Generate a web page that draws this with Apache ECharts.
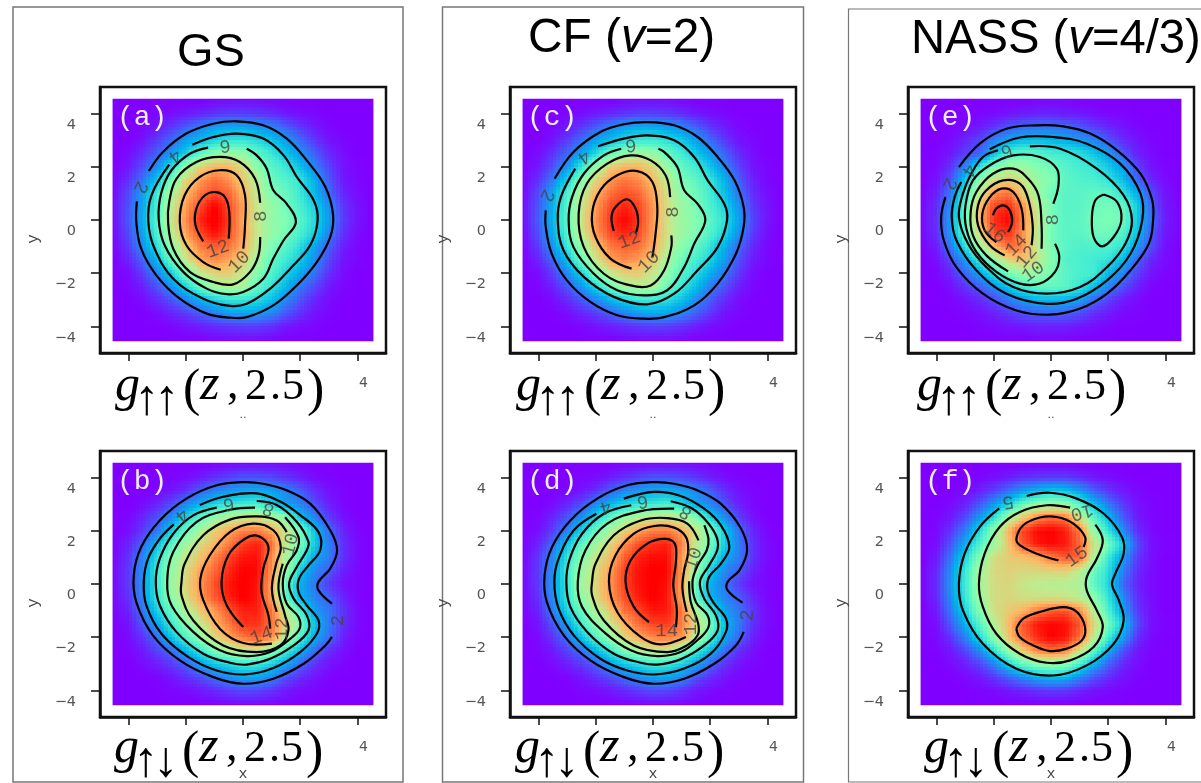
<!DOCTYPE html>
<html><head><meta charset="utf-8"><style>html,body{margin:0;padding:0;background:#fff}#c{width:1201px;height:783px}</style>
<script src="https://cdn.jsdelivr.net/npm/echarts@6/dist/echarts.min.js"></script></head><body><div id="c"></div>
<script>
const gridX=[-4.5,-4,-3.5,-3,-2.5,-2,-1.5,-1,-.5,0,.5,1,1.5,2,2.5,3,3.5,4,4.5];
const gridY=[4.5,4,3.5,3,2.5,2,1.5,1,.5,0,-.5,-1,-1.5,-2,-2.5,-3,-3.5,-4,-4.5];
const tickValues=[-4,-2,0,2,4];
const imageExtent=[-4.56,4.56];
const gridA=[
[0,0,0,0,0,0,0,.1,.2,.2,.2,.1,0,0,0,0,0,0,0],
[0,0,0,.1,.2,.4,.6,.8,1,1,.9,.7,.4,.2,.1,0,0,0,0],
[0,0,.1,.4,.9,1.5,2.2,2.8,3,3,2.7,2.3,1.6,.9,.4,.1,0,0,0],
[0,0,.3,1,1.8,2.8,3.5,4.1,4.6,4.7,4.3,3.7,2.8,1.8,.9,.3,.1,0,0],
[0,.2,.8,1.6,2.7,4,5.8,6.8,7.3,7,5.8,4.8,3.8,2.7,1.6,.7,.2,0,0],
[0,.4,1.3,2.5,4.4,7.2,9.1,9.9,9.9,8.8,6.9,5.6,4.8,3.6,2.3,1.1,.3,.1,0],
[.1,.8,2,3.8,6.4,8.9,10.4,11.3,10.6,9.3,8,6.1,5.5,4.7,3.2,1.5,.4,.1,0],
[.2,1.3,2.9,5,7.7,9.7,11.2,12,11.5,9.8,8.2,6.6,6.1,4.8,3.4,1.9,.6,.2,0],
[.3,1.4,3.1,5.3,8.2,10.4,12,13.3,12,10.3,8.4,7.2,6.3,5.2,4.1,2.5,.9,.3,0],
[.3,1.5,3.2,5.6,8.4,10.7,12.6,13.5,12.2,10.1,8.3,7.1,6.6,5.6,4.3,2.7,1,.3,0],
[.2,1.3,3,5.3,8,10.3,12,13,12,10.2,8.4,7.2,6.4,5.2,4.1,2.3,.8,.2,0],
[.1,1,2.5,4.6,7,9.2,11,11.6,11.2,10,8.1,6.5,5.6,4.4,2.9,1.6,.5,.1,0],
[0,.6,1.7,3.4,6,8.3,10.1,10.8,10.2,9.2,7.6,5.9,4.9,3.9,2.5,1.2,.3,.1,0],
[0,.2,1,2.3,4,6.4,8.2,9,9.2,8.3,6.7,5.4,4.2,3,1.9,.8,.2,0,0],
[0,.1,.5,1.4,2.5,4.1,6,7.5,8,7.7,5.8,4.6,3.4,2,1.2,.4,.1,0,0],
[0,0,.2,.7,1.4,2.3,3.3,4.1,4.7,4.7,4.4,3.6,2.4,1.4,.6,.2,0,0,0],
[0,0,0,.2,.6,1,1.6,2.2,2.8,3,2.9,2.4,1.5,.8,.3,.1,0,0,0],
[0,0,0,0,.1,.3,.5,.7,.9,1,1,.8,.4,.2,.1,0,0,0,0],
[0,0,0,0,0,0,0,.1,.2,.2,.2,.1,0,0,0,0,0,0,0]];
const gridB=[
[0,0,0,0,0,0,0,.1,.2,.3,.3,.3,.2,.1,0,0,0,0,0],
[0,0,0,0,.1,.2,.5,.9,1.3,1.6,1.6,1.4,1,.6,.2,.1,0,0,0],
[0,0,0,.1,.4,.9,1.9,2.6,3.2,3.6,3.8,3.4,2.8,1.9,.9,.3,.1,0,0],
[0,0,.2,.7,1.5,2.7,3.9,4.9,5.6,5.8,6.1,4.9,3.4,2.7,1.5,.6,.1,0,0],
[0,.1,.7,1.6,2.9,4.8,6.7,8.3,9.3,9.8,10.1,9.2,8,4.4,2.7,1.2,.3,0,0],
[0,.3,1.1,2.4,4.7,7,9.1,10.8,12,12.9,13,12,10,7.7,4.3,2.2,.7,.1,0],
[.1,.7,2,4.3,6.6,8.8,10.4,11.6,13,14.4,15,13.4,9.7,7.6,4.6,2.6,.9,.2,0],
[.1,1,2.8,5.3,8,9.8,11.2,12.8,14.3,15.2,15.3,12.7,9.2,6.3,3.6,2.6,.9,.2,0],
[.2,1.2,2.9,6,8.5,10.3,12.2,13.5,14.8,15.6,15.5,12.4,8.8,4.6,2.8,1.9,.6,.1,0],
[.2,1.2,3.1,5.7,8.7,10.6,12.5,14,15.2,15.7,15.3,12,6.9,3.8,2.4,1.1,.3,.1,0],
[.2,1,2.9,5.7,8.2,10.3,12.3,13.8,15,15.7,15.2,12,7,3.9,2.7,1.9,.7,.1,0],
[.1,.7,2.4,4.8,7,9.1,11,12.3,13.9,15,15,13.2,9.6,6.2,3.4,2.4,1,.2,0],
[0,.4,1.7,3.4,5.9,8,9.6,11.7,13.1,14.6,14.6,13.3,10.9,7.6,4.3,2.5,.9,.2,0],
[0,.2,1,2.2,4.4,6.5,8.3,10.4,12,13.2,13.8,12.9,9.5,6.4,3.7,2.3,.6,.1,0],
[0,.1,.5,1.3,2.1,3.9,5.7,7.6,8.9,9.9,9.9,8,6,4,2.1,.9,.3,0,0],
[0,0,.2,.6,1.2,1.9,3.5,4.5,5.2,5.9,5.8,4.9,3.7,2.1,1,.4,.1,0,0],
[0,0,0,.1,.4,.9,1.5,2.3,3,3.6,3.6,2.9,1.6,.9,.4,.1,0,0,0],
[0,0,0,0,.1,.2,.5,.8,1.2,1.5,1.4,1,.5,.2,.1,0,0,0,0],
[0,0,0,0,0,0,0,.1,.2,.3,.3,.2,.1,0,0,0,0,0,0]];
const gridC=[
[0,0,0,0,0,0,0,.1,.2,.2,.2,.1,0,0,0,0,0,0,0],
[0,0,0,.1,.2,.4,.6,.8,1,1,.9,.7,.4,.2,.1,0,0,0,0],
[0,0,.1,.4,.9,1.5,2.2,2.8,3,3,2.7,2.3,1.6,.9,.4,.1,0,0,0],
[0,0,.3,1,1.8,2.8,3.5,4.2,4.7,4.8,4.4,3.8,2.8,1.8,.9,.3,.1,0,0],
[0,.2,.8,1.7,2.9,4.2,5.8,6.9,7.4,7,5.9,4.9,3.8,2.7,1.6,.7,.2,0,0],
[0,.4,1.3,2.6,4.6,7,9,9.7,9.7,8.7,7,5.7,4.9,3.7,2.3,1.1,.3,.1,0],
[.1,.8,2.1,4,6.5,8.7,10.3,10.9,10.5,9.4,8,6.3,5.6,4.6,3.2,1.6,.5,.1,0],
[.2,1.3,3,5.2,7.8,9.7,11,11.6,11.2,9.9,8.4,6.8,6.1,4.9,3.5,2,.7,.2,0],
[.3,1.5,3.2,5.5,8.2,10.2,11.7,12.4,11.8,10.3,8.5,7.2,6.3,5.2,4.1,2.5,.9,.3,0],
[.3,1.6,3.3,5.7,8.4,10.5,12,12.9,12,10.2,8.4,7.2,6.6,5.6,4.4,2.8,1.1,.3,0],
[.2,1.4,3.1,5.4,8.1,10.2,11.7,12.4,11.7,10.1,8.4,7.2,6.4,5.3,4.1,2.4,.9,.2,0],
[.1,1,2.6,4.7,7,9.1,10.8,11.3,11,9.9,8.1,6.6,5.7,4.5,3.1,1.8,.6,.1,0],
[0,.6,1.7,3.5,6,8.2,10,10.6,10.1,9.1,7.5,6,5,4,2.7,1.3,.4,.1,0],
[0,.2,1,2.3,4,6.3,8,8.9,9,8.2,6.8,5.4,4.3,3.1,2,.9,.2,0,0],
[0,.1,.5,1.4,2.6,4.1,5.9,7.4,7.9,7.6,5.9,4.7,3.5,2.1,1.3,.5,.1,0,0],
[0,0,.2,.7,1.4,2.3,3.3,4.1,4.7,4.7,4.4,3.6,2.5,1.5,.7,.2,0,0,0],
[0,0,0,.2,.6,1,1.6,2.2,2.8,3,2.9,2.4,1.6,.9,.3,.1,0,0,0],
[0,0,0,0,.1,.3,.5,.7,.9,1,1,.8,.5,.2,.1,0,0,0,0],
[0,0,0,0,0,0,0,.1,.2,.2,.2,.1,0,0,0,0,0,0,0]];
const gridD=[
[0,0,0,0,0,0,0,.1,.2,.3,.3,.3,.2,.1,0,0,0,0,0],
[0,0,0,0,.1,.2,.5,.9,1.3,1.6,1.6,1.4,1,.6,.2,.1,0,0,0],
[0,0,0,.1,.4,.9,1.9,2.7,3.3,3.7,3.8,3.4,2.8,1.9,.9,.3,.1,0,0],
[0,0,.2,.7,1.5,2.8,3.9,4.9,5.5,5.7,6.1,5,3.5,2.7,1.6,.6,.1,0,0],
[0,.1,.7,1.7,3,4.9,6.8,8.3,9.2,9.9,10.1,9.2,7.8,5,2.8,1.3,.3,0,0],
[0,.3,1.2,2.6,4.8,7,9,10.6,12,12.9,13,12,10,7.7,4.6,2.3,.7,.1,0],
[.1,.7,2.1,4.4,6.7,8.8,10.4,12.5,14,14.6,14.9,12.8,9.7,7.4,4.6,2.6,.9,.2,0],
[.1,1.1,2.9,5.4,8,9.8,11.4,13.6,14.9,15.3,15.3,12.3,9.2,6.3,3.7,2.6,.9,.2,0],
[.2,1.2,3,6,8.6,10.3,12.2,14.2,15.2,15.6,15.4,12.3,8.7,4.7,2.8,1.9,.6,.1,0],
[.2,1.2,3.2,5.7,8.8,10.6,12.4,14.2,15.2,15.6,15.2,12,7,3.8,2.4,1.1,.3,.1,0],
[.2,1,3,5.7,8.3,10.3,12.3,13.9,15,15.6,15.1,12,7,3.9,2.7,1.9,.7,.1,0],
[.1,.7,2.5,4.9,7.1,9.1,11,13.2,14.2,15.1,15,13,9.4,6.1,3.4,2.4,1,.2,0],
[0,.4,1.7,3.5,6,8,9.7,11.7,13.4,14.2,14.4,12.9,10.6,7.6,4.2,2.5,.9,.2,0],
[0,.2,1,2.3,4.4,6.5,8.3,10.5,11.8,12.8,13,12.4,9.5,6.3,3.6,2.2,.6,.1,0],
[0,.1,.5,1.3,2.2,3.9,5.7,7.6,8.9,9.9,9.9,8,6,4,2.1,.9,.3,0,0],
[0,0,.2,.6,1.2,2,3.5,4.5,5.3,5.9,5.8,4.9,3.7,2.1,1,.4,.1,0,0],
[0,0,0,.1,.4,.9,1.5,2.3,3,3.6,3.6,2.9,1.7,.9,.4,.1,0,0,0],
[0,0,0,0,.1,.2,.5,.8,1.2,1.5,1.4,1,.5,.2,.1,0,0,0,0],
[0,0,0,0,0,0,0,.1,.2,.3,.3,.2,.1,0,0,0,0,0,0]];
const gridE=[
[0,0,0,0,0,0,0,0,.1,.1,.1,0,0,0,0,0,0,0,0],
[0,0,0,0,.1,.2,.4,.6,.7,.7,.6,.5,.3,.1,.1,0,0,0,0],
[0,0,.1,.2,.5,1.1,1.8,2.2,2.5,2.5,2.3,1.9,1.3,.8,.4,.1,0,0,0],
[0,0,.2,.8,1.5,2.9,3.9,4.5,4.6,4.3,4.1,3.6,3,1.8,.9,.4,.1,0,0],
[0,.1,.5,1.3,2.1,4.6,6.8,7.4,7.2,6.6,6.3,5.8,4.9,3.7,1.9,.7,.2,0,0],
[0,.2,1,3,6,8.3,9.6,9.6,8.7,8,7.2,6.6,6.1,5,3.6,1.5,.4,.1,0],
[0,.4,1.8,4.8,8.8,11,12,11,9.3,8.6,7.4,7,6.8,6,4.7,2.3,.8,.2,0],
[.1,.7,2.7,6.5,10.6,13.6,14.5,12,9.6,8,7.3,7.3,7.5,7.5,6,4.1,1.6,.4,0],
[.2,1,3.4,7.5,12.4,15.6,16.2,13.9,10.5,8.2,7.2,7.3,7.9,8.2,7.7,5.2,2.1,.5,.1],
[.2,1.1,3.8,7.7,12.6,16,17,14,11,8.2,7.3,7.4,8.1,8.4,8,5,2.4,.6,.1],
[.2,1,3.6,7.6,11.3,15.5,16,13.9,10.5,8.1,7.3,7.3,7.9,8.1,7,4.8,1.9,.5,.1],
[.1,.6,2.7,5.7,9.4,12.4,14.7,14,10.7,8.3,7.3,6.9,6.9,6.9,6,3.6,1.6,.3,0],
[0,.3,1.5,3.6,6.3,9.1,11.6,12.3,11,8.6,7.1,6.7,6.4,6,4.4,2.2,.8,.2,0],
[0,.1,.8,2.2,3.8,6,8,9.4,9.2,8.2,7.3,6.8,6.5,4.4,3,1.4,.4,.1,0],
[0,0,.3,1.1,2,3.2,4.8,6.4,7.4,7.6,7.4,6.1,4.6,3,1.7,.7,.1,0,0],
[0,0,.1,.4,.9,1.6,2.7,3.6,4.4,4.5,4.3,3.7,2.4,1.4,.6,.2,0,0,0],
[0,0,0,.1,.3,.7,1.2,1.8,2.1,2.2,2.2,1.7,1,.6,.2,.1,0,0,0],
[0,0,0,0,.1,.2,.4,.5,.7,.7,.7,.5,.3,.1,0,0,0,0,0],
[0,0,0,0,0,0,0,0,.1,.1,.1,0,0,0,0,0,0,0,0]];
const gridF=[
[0,0,0,0,0,0,0,0,.1,.1,.1,0,0,0,0,0,0,0,0],
[0,0,0,0,.1,.3,.6,1,1.2,1.3,1.3,1,.5,.3,.1,0,0,0,0],
[0,0,0,.2,.7,1.4,2.5,3.6,4.5,5.1,4.9,3.7,2.2,1.2,.5,.2,0,0,0],
[0,0,.2,.7,1.9,3.5,5.4,7.7,9.3,9.8,9.5,7.3,4.8,2.8,1.3,.4,.1,0,0],
[0,.1,.5,1.6,3.6,6,9.8,12.3,14.3,15,14.8,11.5,7.6,4.6,2.1,.6,.1,0,0],
[0,.2,1.1,2.9,5.7,9.4,13,16,17.3,17.5,16.9,14.8,9.4,6.2,3.4,1,.2,0,0],
[0,.3,1.9,4.2,7.1,9.7,12.4,15.5,17,17.4,17,15.2,11.6,8.4,5.3,1.8,.3,.1,0],
[0,.6,2.7,5.5,8.9,11.5,12.3,12.6,13.3,14.7,15.6,15.3,10.5,6.5,3.9,1.3,.3,0,0],
[.1,.9,3.4,6.4,10,11.7,12,11.7,11.8,12,12,10.8,8.1,5.9,3,1,.2,0,0],
[.1,1,3.6,6.6,10.1,11.6,11.8,11.2,10.8,10.6,10.6,10.4,7.7,5.6,2.4,.8,.2,0,0],
[.1,.9,3.4,6.3,9.8,11.6,11.8,11.5,11.4,11.4,11.2,10.7,9.2,6.2,3.3,1,.2,0,0],
[0,.6,2.8,5.5,8.9,11.4,12.3,13,14.5,15.4,15.7,14.3,10.8,7,4,1.3,.3,0,0],
[0,.3,2,4.3,7.4,10.5,12.8,15.5,17,17.4,17.2,15.6,12,8.4,5.2,1.8,.3,.1,0],
[0,.2,1.1,3,5.8,9.2,12.5,15,16.6,17.5,17.1,15.1,11,6.7,3.8,1.1,.2,0,0],
[0,.1,.5,1.5,3.2,6,9.4,12.2,14.4,15.1,14.6,11.5,7.7,4.2,1.8,.5,.1,0,0],
[0,0,.2,.7,1.5,3,5.6,7.9,9.3,9.8,9.4,6.9,4.4,2.3,.9,.3,0,0,0],
[0,0,0,.2,.5,1.2,2.2,3.3,4.3,4.9,4.7,3.2,1.9,1,.4,.1,0,0,0],
[0,0,0,0,.1,.2,.5,.8,1.1,1.3,1.2,.8,.4,.2,.1,0,0,0,0],
[0,0,0,0,0,0,0,0,.1,.1,.1,0,0,0,0,0,0,0,0]];
const contoursA=[
[[-3.29,1.84],[-2.8,2.56],[-1.98,3.25],[-1.04,3.62],[-.22,3.71],[.71,3.56],[1.53,3.06],[2.23,2.24],[2.88,1.24],[3.15,.18],[3.05,-.64],[2.58,-1.58],[1.88,-2.46],[1.06,-3.21],[.13,-3.65],[-.46,-3.67],[-1.27,-3.52],[-2.21,-2.96],[-3.03,-2.08],[-3.56,-1.08],[-3.73,-.08],[-3.71,.7]],
[[-1.77,2.83],[-1.04,3.12],[-.22,3.25],[.71,3.06],[1.42,2.43],[1.88,1.62],[2.47,.74],[2.61,-.01],[2.35,-.95],[1.65,-1.83],[.95,-2.58],[.13,-3.15],[-.46,-3.23],[-1.39,-2.96],[-2.44,-2.21],[-3.09,-1.08],[-3.31,-.08],[-3.2,.93],[-2.58,2.08]],
[[-1.22,2.72],[-1.86,2.49],[-2.5,1.87],[-2.85,1.05],[-2.95,.05],[-2.74,-.95],[-2.09,-1.95],[-1.27,-2.58],[-.57,-2.79],[.01,-2.71],[.71,-2.21],[1.06,-1.45],[1.42,-.76],[1.85,-.08],[1.53,.61],[1.06,1.12],[.83,1.93],[.48,2.43],[.13,2.68]],
[[.6,.65],[.42,1.55],[-.11,2.18],[-.81,2.37],[-1.63,2.18],[-2.33,1.55],[-2.58,.68],[-2.62,-.08],[-2.44,-1.08],[-1.86,-1.95],[-1.04,-2.33],[-.34,-2.42],[.25,-1.95],[.54,-1.33],[.6,-.64]],
[[-.78,-1.87],[-1.39,-1.58],[-1.98,-.95],[-2.21,-.08],[-2.04,.93],[-1.51,1.62],[-.81,1.87],[-.22,1.68],[.07,.93],[.07,-.2],[.01,-1.08]],
[[-1.39,-.8],[-1.66,-.2],[-1.63,.43],[-1.33,.93],[-.95,1.05],[-.63,.86],[-.48,.3],[-.5,-.7]]];
const contoursB=[
[[3.11,-.74],[2.64,-.24],[2.64,.08],[3.05,.58],[3.29,1.27],[3.05,2.02],[2.35,3.02],[1.53,3.52],[.71,3.77],[.01,3.83],[-.92,3.71],[-1.98,3.21],[-2.91,2.39],[-3.56,1.39],[-3.82,.33],[-3.73,-.68],[-3.15,-1.93],[-2.21,-2.87],[-1.04,-3.5],[.01,-3.75],[1.06,-3.56],[2.12,-3],[2.88,-2.31],[3.11,-1.99]],
[[-2.42,2.24],[-2.91,1.7],[-3.32,.95],[-3.47,.08],[-3.38,-.8],[-2.85,-1.87],[-1.92,-2.74],[-.92,-3.25],[.07,-3.4],[1.06,-3.16],[2,-2.56],[2.58,-1.87],[2.64,-1.37],[2.23,-.8],[1.94,-.3],[1.96,.2],[2.29,.7],[2.7,1.27],[2.64,1.95],[2,2.59],[1.3,3.1],[.48,3.41],[-.69,3.28],[-1.51,2.97]],
[[-.92,2.87],[-1.74,2.58],[-2.44,1.89],[-2.91,.95],[-3.05,.08],[-2.91,-.8],[-2.33,-1.8],[-1.39,-2.62],[-.46,-2.96],[.13,-3.03],[.95,-2.81],[1.77,-2.31],[2.29,-1.74],[2.23,-1.18],[1.77,-.55],[1.61,.01],[1.88,.64],[2.23,1.27],[2.29,1.58],[1.88,2.34],[1.18,2.97],[.48,3.12]],
[[.42,2.87],[-.46,2.79],[-1.63,2.33],[-2.44,1.2],[-2.65,.08],[-2.5,-.8],[-1.74,-1.8],[-.81,-2.49],[.13,-2.71],[.95,-2.56],[1.65,-2.06],[1.98,-1.68],[1.94,-1.24],[1.53,-.74],[1.39,.01],[1.53,.7],[1.88,1.27],[1.94,1.77],[1.47,2.51]],
[[1.39,.76],[1.24,-.18],[1.47,-1.18],[1.59,-1.74],[1.3,-2.31],[.48,-2.56],[-.69,-2.31],[-1.74,-1.37],[-2.15,-.43],[-2.15,.08],[-2.04,.76],[-1.39,1.83],[-.46,2.42],[.48,2.54],[1.18,2.39],[1.53,1.95]],
[[1.18,-1.05],[1.01,-.18],[1.16,.76],[1.32,1.39],[1.06,2.02],[.36,2.27],[-.46,1.95],[-1.16,1.08],[-1.49,.2],[-1.39,-.61],[-.81,-1.68],[.01,-2.22],[1.01,-2.24]],
[[.01,-1.62],[-.57,-.8],[-.75,.08],[-.51,1.08],[.07,1.7],[.54,1.8],[.89,1.39],[.71,.58],[.65,-.3],[.89,-1.18],[.95,-1.68]]];
const contoursC=[
[[-3.44,1.55],[-2.78,2.56],[-1.84,3.31],[-1.02,3.6],[-.2,3.68],[.74,3.56],[1.56,3.12],[2.26,2.37],[2.85,1.49],[3.17,.49],[3.17,-.26],[2.9,-1.27],[2.26,-2.39],[1.44,-3.21],[.39,-3.65],[-.32,-3.71],[-1.25,-3.58],[-2.19,-3.08],[-3.01,-2.27],[-3.54,-1.27],[-3.75,-.26],[-3.75,.36]],
[[-1.92,2.77],[-1.02,3.06],[-.2,3.18],[.74,3],[1.44,2.37],[1.91,1.49],[2.49,.61],[2.59,-.01],[2.26,-1.02],[1.56,-1.89],[.74,-2.77],[-.2,-3.17],[-1.37,-2.89],[-2.42,-2.14],[-3.13,-1.14],[-3.33,-.01],[-3.22,.86],[-2.72,1.93]],
[[-1.11,2.68],[-1.72,2.43],[-2.42,1.74],[-2.83,.86],[-2.95,-.01],[-2.78,-1.02],[-2.07,-2.02],[-1.25,-2.64],[-.32,-2.83],[.5,-2.64],[1.09,-1.77],[1.44,-.89],[1.83,-.01],[1.56,.61],[1.09,1.12],[.85,1.99],[.39,2.56],[.19,2.68]],
[[.6,.86],[.44,1.68],[-.08,2.24],[-.78,2.43],[-1.6,2.12],[-2.31,1.37],[-2.6,.24],[-2.42,-1.02],[-1.72,-2.02],[-.78,-2.46],[-.08,-2.46],[.39,-1.89],[.64,-1.02],[.64,-.58]],
[[-.75,-1.83],[-1.49,-1.45],[-2.01,-.64],[-2.13,.24],[-1.84,1.12],[-1.25,1.68],[-.55,1.84],[-.02,1.43],[.15,.49],[.09,-.51],[-.02,-1.39]],
[[-1.37,-.41],[-1.45,.11],[-1.31,.49],[-.9,.78],[-.61,.43],[-.52,-.08],[-.61,-.51]]];
const contoursD=[
[[3.13,-.7],[2.61,-.24],[2.61,.08],[3.02,.51],[3.29,1.27],[3.08,2.08],[2.37,3.02],[1.56,3.52],[.74,3.77],[.04,3.83],[-.9,3.71],[-1.95,3.21],[-2.89,2.39],[-3.53,1.39],[-3.79,.33],[-3.71,-.68],[-3.12,-1.93],[-2.19,-2.87],[-1.02,-3.5],[.04,-3.75],[1.09,-3.56],[2.14,-3],[2.9,-2.31],[3.17,-1.8]],
[[-1.98,2.64],[-2.77,2.02],[-3.3,.95],[-3.45,.08],[-3.3,-.93],[-2.77,-1.93],[-1.84,-2.81],[-.9,-3.25],[.09,-3.4],[1.09,-3.18],[2.02,-2.62],[2.55,-1.8],[2.55,-1.3],[2.14,-.74],[1.91,-.24],[1.96,.26],[2.37,.76],[2.67,1.39],[2.37,2.21],[1.79,2.83],[.97,3.31],[.04,3.46],[-1.02,3.21]],
[[-.76,2.96],[-1.72,2.64],[-2.48,1.89],[-2.91,.95],[-3.03,.08],[-2.89,-.86],[-2.3,-1.8],[-1.37,-2.62],[-.43,-2.96],[.15,-3.03],[.97,-2.83],[1.79,-2.31],[2.26,-1.74],[2.2,-1.18],[1.79,-.55],[1.64,.08],[1.96,.7],[2.26,1.33],[2.2,1.83],[1.79,2.46],[1.32,2.87],[.62,3.11]],
[[.74,2.83],[-.43,2.74],[-1.6,2.27],[-2.36,1.27],[-2.63,.08],[-2.48,-.86],[-1.72,-1.8],[-.78,-2.49],[.15,-2.71],[.97,-2.56],[1.61,-2.06],[1.94,-1.62],[1.91,-1.18],[1.5,-.68],[1.38,.08],[1.56,.7],[1.88,1.27],[1.94,1.7],[1.79,2.21]],
[[1.26,.1],[1.32,-.68],[1.58,-1.49],[1.56,-1.93],[1.15,-2.33],[.5,-2.56],[-.67,-2.31],[-1.72,-1.37],[-2.13,-.43],[-2.13,.08],[-2.01,.76],[-1.37,1.83],[-.43,2.39],[.5,2.48],[1.2,2.27],[1.59,1.64]],
[[1.18,-1.05],[1.03,-.18],[1.09,.51],[1.23,1.2],[1.15,1.77],[.74,2.12],[.04,2.18],[-.67,1.89],[-1.31,1.08],[-1.54,.08],[-1.25,-1.05],[-.43,-1.99],[.27,-2.27],[1.15,-1.99]],
[[-.14,-1.43],[-.67,-.86],[-.96,.08],[-.78,.89],[-.2,1.52],[.39,1.7],[.76,1.52],[.8,.83],[.71,-.05],[.83,-.93],[.8,-1.62]]];
const contoursE=[
[[-3.22,1.99],[-2.49,2.87],[-1.56,3.43],[-.5,3.56],[.43,3.52],[1.37,3.25],[2.31,2.62],[3.13,1.74],[3.54,.74],[3.57,-.01],[3.42,-.89],[2.78,-1.89],[1.96,-2.77],[1.02,-3.33],[-.04,-3.56],[-1.21,-3.4],[-2.38,-2.77],[-3.31,-1.77],[-3.75,-.76],[-3.84,.11],[-3.69,.86]],
[[-2.14,2.66],[-1.09,3.1],[.08,3.12],[1.25,2.87],[2.42,2.12],[3.13,.99],[3.19,-.01],[2.78,-1.27],[1.96,-2.27],[.9,-2.96],[-.15,-3.15],[-1.56,-2.77],[-2.61,-1.89],[-3.31,-.76],[-3.47,.11],[-3.37,.86],[-3.14,1.43]],
[[-.74,2.77],[.32,2.68],[1.6,1.93],[2.54,.93],[2.83,-.01],[2.6,-.89],[1.96,-1.77],[1.02,-2.52],[-.15,-2.77],[-1.32,-2.52],[-2.26,-1.77],[-2.9,-.89],[-3.22,.11],[-3.08,.99],[-2.79,1.74],[-2.38,2.37],[-1.85,2.62]],
[[.08,.61],[.26,1.3],[.2,1.93],[-.39,2.37],[-1.32,2.43],[-2.14,2.06],[-2.73,1.49],[-2.99,.55],[-2.96,-.33],[-2.61,-1.2],[-1.91,-1.95],[-1.09,-2.39],[-.39,-2.39],[.14,-1.95],[.29,-1.39],[.14,-.89]],
[[1.84,.96],[2.31,.68],[2.46,-.01],[2.19,-.64],[1.78,-.99],[1.49,-.64],[1.43,.11],[1.55,.74],[1.84,.96]],
[[-1.5,-1.93],[-2.26,-1.33],[-2.73,-.58],[-2.81,.3],[-2.61,1.05],[-2.03,1.74],[-1.32,1.93],[-.8,1.55],[-.44,.93],[-.33,-.2],[-.33,-1.08]],
[[-1.62,-1.33],[-2.14,-.95],[-2.55,-.2],[-2.55,.55],[-2.26,1.12],[-1.67,1.49],[-1.09,1.37],[-.8,.8],[-.64,-.2],[-.68,-.95]],
[[-1.91,-.83],[-2.32,-.39],[-2.4,.24],[-2.14,.86],[-1.73,1.18],[-1.32,1.05],[-1.03,.43],[-.97,-.39]],
[[-2.03,.18],[-1.91,.43],[-1.67,.55],[-1.44,.36],[-1.36,-.08],[-1.5,-.45]]];
const contoursF=[
[[-.85,3.31],[-.04,3.43],[.9,3.21],[1.84,2.65],[2.48,1.77],[2.54,1.14],[2.25,.39],[2.13,-.01],[2.37,-.61],[2.54,-1.37],[2.19,-2.25],[1.25,-3.06],[.08,-3.44],[-1.21,-3.19],[-2.38,-2.25],[-3.08,-.99],[-3.22,.01],[-3.02,1.14],[-2.49,2.15],[-1.81,2.84]],
[[1.55,2.23],[1.81,1.64],[1.6,.95],[1.25,.26],[1.25,-.24],[1.6,-.99],[1.81,-1.62],[1.49,-2.37],[.67,-2.87],[-.15,-2.96],[-1.09,-2.62],[-1.91,-1.87],[-2.38,-.87],[-2.52,.01],[-2.32,1.14],[-1.79,2.15],[-1.09,2.71],[-.15,2.96],[.67,2.87]],
[[.26,.89],[-.5,1.14],[-1.09,1.46],[-1.21,1.71],[-.97,2.21],[-.39,2.5],[.2,2.52],[.78,2.27],[1.19,1.77],[1.14,1.39]],
[[-1.21,-1.68],[-.97,-1.3],[-.39,-1.05],[.43,-.87],[.9,-1.05],[1.19,-1.62],[1.08,-2.12],[.55,-2.43],[-.04,-2.52],[-.62,-2.31],[-1.09,-2],[-1.21,-1.68]]];
const labelsA=[[-3.59,1.24,'2',245],[-2.39,2.41,'4',215],[-.63,2.81,'6',185],[.62,.14,'8',90],[-.87,-1.1,'12',20],[-.13,-1.58,'10',45]];
const labelsB=[[-2.15,2.58,'4',220],[-.51,3.02,'6',190],[.89,2.83,'8',160],[1.67,1.48,'10',75],[1.36,-1.68,'12',90],[.65,-1.95,'14',20],[3.31,-1.37,'2',90]];
const labelsC=[[-3.71,.93,'2',245],[-2.42,2.37,'4',215],[-.78,2.83,'6',185],[.7,.3,'8',90],[-.82,-.76,'12',20],[-.14,-1.58,'10',45]];
const labelsD=[[-1.66,2.89,'4',195],[-.37,3.11,'6',190],[1.15,2.71,'8',150],[1.42,.95,'10',70],[1.33,-1.5,'12',90],[.48,-1.78,'14',0],[3.31,-1.18,'2',85]];
const labelsE=[[-3.55,1.37,'2',245],[-2.87,1.87,'4',235],[-1.56,2.62,'6',200],[.06,.01,'8',90],[-1.97,-.48,'16',-40],[-1.21,-.95,'14',45],[-.85,-1.39,'12',50],[-.62,-1.95,'10',35]];
const labelsF=[[-1.5,3.09,'5',190],[1.08,2.71,'10',195],[.9,1.02,'15',35]];
const formulaUp='↑↑',formulaMixed='↑↓';
const panels=[
{left:100,top:87,grid:gridA,max:13.2,contours:contoursA,labels:labelsA,tag:'(a)',sub:formulaUp,fx:115},
{left:100,top:451,grid:gridB,max:15.6,contours:contoursB,labels:labelsB,tag:'(b)',sub:formulaMixed,fx:114},
{left:510,top:87,grid:gridC,max:12.9,contours:contoursC,labels:labelsC,tag:'(c)',sub:formulaUp,fx:516},
{left:510,top:451,grid:gridD,max:15.5,contours:contoursD,labels:labelsD,tag:'(d)',sub:formulaMixed,fx:515},
{left:908,top:87,grid:gridE,max:17,contours:contoursE,labels:labelsE,tag:'(e)',sub:formulaUp,fx:917},
{left:908,top:451,grid:gridF,max:17.5,contours:contoursF,labels:labelsF,tag:'(f)',sub:formulaMixed,fx:924}];
const rainbow=['#8000ff','#4062fa','#00b5eb','#40ecd4','#80ffb4','#bfec8e','#ffb562','#ff6232','#ff0000'];
const SUB=4;
const W=286,H=266;
const option={animation:false,backgroundColor:'#fff',grid:[],xAxis:[],yAxis:[],series:[],graphic:{elements:[]}};
const G=option.graphic.elements;
function txt(text,x,y,font,align,fill,rot,va){G.push({type:'text',x,y,rotation:(rot||0)*Math.PI/180,z:50,silent:true,style:{text,font,fill:fill||'#000',align:align||'left',verticalAlign:va||'bottom'}});}
function frame(x,y,w,h,c,lw){G.push({type:'rect',z:-1,silent:true,shape:{x,y,width:w,height:h},style:{fill:'none',stroke:c,lineWidth:lw}});}
frame(13,7,390,775,'#777',1.5);frame(442.5,7,361,775,'#777',1.5);frame(848.5,9,360,773,'#777',1.2);
const SANS='"Liberation Sans"',SERIF='"Liberation Serif"';
txt('GS',211,77,'47px '+SANS,'center');
G.push({type:'text',x:528,y:63,z:50,silent:true,style:{text:'{a|CF (}{b|v}{a|=2)}',verticalAlign:'bottom',rich:{a:{font:'47.8px '+SANS,fill:'#000'},b:{font:'italic 47.8px '+SANS,fill:'#000'}}}});
G.push({type:'text',x:911,y:63,z:50,silent:true,style:{text:'{a|NASS (}{b|v}{a|=4/3)}',verticalAlign:'bottom',rich:{a:{font:'47.2px '+SANS,fill:'#000'},b:{font:'italic 47.2px '+SANS,fill:'#000'}}}});
panels.forEach((p,k)=>{
  option.grid.push({left:p.left,top:p.top,width:W,height:H,show:true,borderColor:'#111',borderWidth:2.5,backgroundColor:'#fff'});
  const bottom=p.top>=400;
  option.xAxis.push({gridIndex:k,type:'value',min:-5,max:5,axisLine:{show:true,onZero:false,lineStyle:{color:'#111',width:2.5}},splitLine:{show:false},
    axisTick:{show:true,length:8,inside:false,customValues:tickValues,lineStyle:{color:'#111',width:1.5}},
    axisLabel:{show:true,customValues:[4],margin:23,padding:[0,0,0,12],fontFamily:'DejaVu Sans',fontSize:14,color:'#555'}});
  option.yAxis.push({gridIndex:k,type:'value',min:-5,max:5,axisLine:{show:true,onZero:false,lineStyle:{color:'#111',width:2.5}},splitLine:{show:false},
    axisTick:{show:true,length:9,customValues:tickValues,lineStyle:{color:'#111',width:1.5}},
    axisLabel:{show:true,customValues:tickValues,margin:24,verticalAlign:'top',padding:[4,0,0,0],fontFamily:'DejaVu Sans',fontSize:14.5,color:'#555',formatter:v=>v<0?'\u2212'+(-v):String(v)}});
  option.series.push({type:'custom',coordinateSystem:'cartesian2d',xAxisIndex:k,yAxisIndex:k,silent:true,z:1,clip:false,data:[imageExtent],
    renderItem:(params,api)=>{const a=api.coord([api.value(0),api.value(1)]),b=api.coord([api.value(1),api.value(0)]);
      return {type:'rect',shape:{x:a[0],y:b[1],width:b[0]-a[0],height:a[1]-b[1]},style:{fill:rainbow[0]}};}});
  // heat cells: values come from the panel's grid; each cell is shaded between its four read corner values
  const cells=[];
  p.grid.forEach((row,j)=>row.forEach((v,i)=>cells.push([gridX[i],gridY[j],v,i,j])));
  option.series.push({type:'custom',coordinateSystem:'cartesian2d',xAxisIndex:k,yAxisIndex:k,silent:true,z:2,clip:false,progressive:0,data:cells,
    renderItem:(params,api)=>{
      const i=api.value(3),j=api.value(4);
      if(i>=gridX.length-1||j>=gridY.length-1) return null;
      const g=p.grid,v00=g[j][i],v10=g[j][i+1],v01=g[j+1][i],v11=g[j+1][i+1];
      if(v00+v10+v01+v11===0) return null;
      const o=api.coord([gridX[i],gridY[j]]),e=api.coord([gridX[i+1],gridY[j+1]]);
      const kids=[];
      for(let a=0;a<SUB;a++)for(let b=0;b<SUB;b++){
        const u=(a+.5)/SUB,w=(b+.5)/SUB;
        const val=v00*(1-u)*(1-w)+v10*u*(1-w)+v01*(1-u)*w+v11*u*w;
        const x0=Math.round(o[0]+(e[0]-o[0])*a/SUB),x1=Math.round(o[0]+(e[0]-o[0])*(a+1)/SUB);
        const y0=Math.round(o[1]+(e[1]-o[1])*b/SUB),y1=Math.round(o[1]+(e[1]-o[1])*(b+1)/SUB);
        kids.push({type:'rect',shape:{x:x0,y:y0,width:x1-x0,height:y1-y0},style:{fill:echarts.color.lerp(Math.min(1,val/p.max),rainbow)}});
      }
      return {type:'group',children:kids};
    }});
  // contour lines: read points placed through the axes, drawn as smooth curves
  option.series.push({type:'custom',coordinateSystem:'cartesian2d',xAxisIndex:k,yAxisIndex:k,silent:true,z:3,clip:false,
    data:p.contours.map((c,n)=>[c[0][0],c[0][1],n]),
    renderItem:(params,api)=>({type:'polyline',shape:{points:p.contours[api.value(2)].map(q=>api.coord(q)),smooth:.38},style:{fill:null,stroke:'#000',lineWidth:2.2}})});
  option.series.push({type:'scatter',xAxisIndex:k,yAxisIndex:k,symbolSize:0,silent:true,z:4,
    data:p.labels.map(l=>({value:[l[0],l[1]],label:{show:true,position:'inside',formatter:l[2],rotate:l[3],fontFamily:'Liberation Mono',fontSize:19,color:'#444'}}))});
  txt(p.tag,p.left+17,p.top+45,'28px "Liberation Mono"','left','#eee');
  txt('y',p.left-66,p.top+152,'16px "Liberation Mono"','center','#444',90,'middle');
  const fx=p.fx,by=bottom?771:409;
  txt('g',fx,by+3,'italic 50px '+SERIF);
  txt(p.sub[0],fx+32,by+17,'50px '+SERIF,'center');txt(p.sub[1],fx+52,by+17,'50px '+SERIF,'center');
  txt('(',fx+68,by+8,'52px '+SERIF);
  txt('z',fx+85,by+2,'italic 50px '+SERIF);
  txt(',',fx+112,by,'46px '+SERIF);
  txt('2',fx+130,by,'44px '+SERIF);txt('.',fx+155,by,'44px '+SERIF);txt('5',fx+167,by,'44px '+SERIF);
  txt(')',fx+192,by+8,'52px '+SERIF);
  if(bottom) txt('x',p.left+143,782,'15px "Liberation Mono"','center','#444');
  else txt('..',p.left+143,421,'11px "DejaVu Sans"','center','#444');
});
const chart=echarts.init(document.getElementById('c'),null,{renderer:'canvas'});
chart.setOption(option);
</script></body></html>
